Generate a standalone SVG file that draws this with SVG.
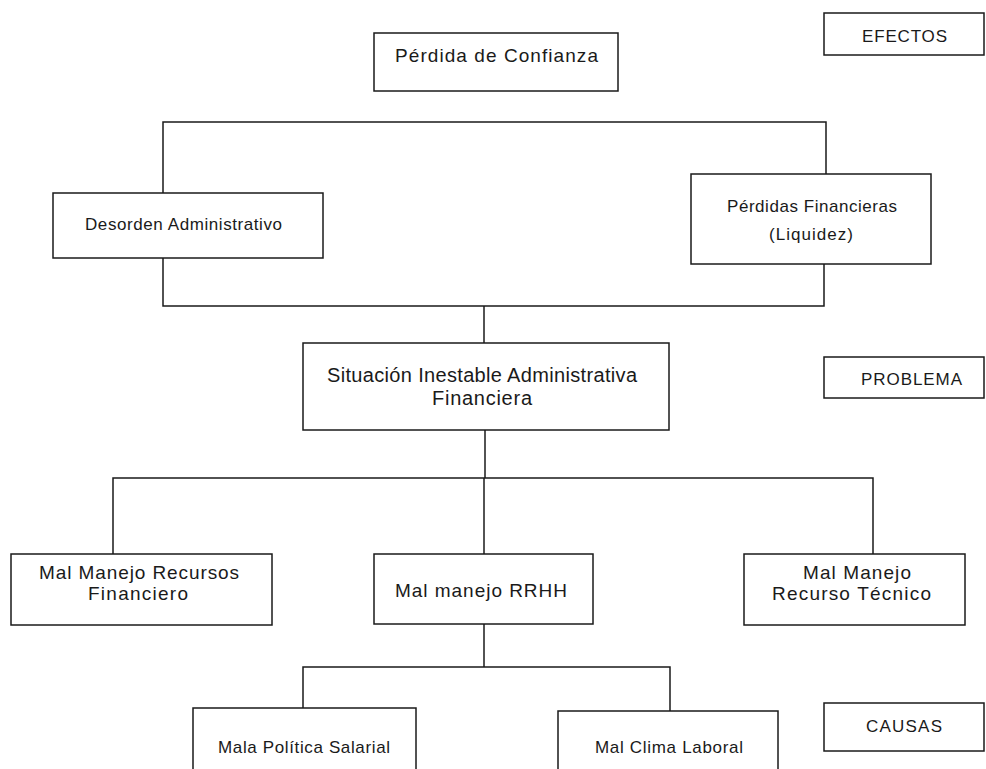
<svg xmlns="http://www.w3.org/2000/svg" width="986" height="769" viewBox="0 0 986 769">
<style>
.box{fill:#fff;stroke:#1a1a1a;stroke-width:1.5}
.ln{fill:none;stroke:#1a1a1a;stroke-width:1.5}
text{font-family:"Liberation Sans",Arial,sans-serif;fill:#1a1a1a;text-anchor:start}
.s{font-size:17px}
.m{font-size:19px}
.l{font-size:20px}
</style>
<rect width="986" height="769" fill="#fff"/>
<g id="connectors">
<polyline class="ln" points="163,193 163,122 826,122 826,174"/>
<polyline class="ln" points="163,258 163,306 824,306 824,264"/>
<line class="ln" x1="484" y1="306" x2="484" y2="343"/>
<line class="ln" x1="485" y1="430" x2="485" y2="478"/>
<polyline class="ln" points="113,554 113,478 873,478 873,554"/>
<line class="ln" x1="484" y1="478" x2="484" y2="554"/>
<line class="ln" x1="484" y1="624" x2="484" y2="667"/>
<polyline class="ln" points="303,708 303,667 670,667 670,711"/>
</g>
<g id="perdida-confianza">
<rect class="box" x="374" y="33" width="244" height="58"/>
<text class="m" x="395" y="62" textLength="203">Pérdida de Confianza</text>
</g>
<g id="efectos">
<rect class="box" x="824" y="13" width="160" height="42"/>
<text class="s" x="862" y="42" textLength="85">EFECTOS</text>
</g>
<g id="desorden">
<rect class="box" x="53" y="193" width="270" height="65"/>
<text class="s" x="85" y="230" textLength="197">Desorden Administrativo</text>
</g>
<g id="perdidas-financieras">
<rect class="box" x="691" y="174" width="240" height="90"/>
<text class="s" x="727" y="212" textLength="170">Pérdidas Financieras</text>
<text class="s" x="769" y="240" textLength="84">(Liquidez)</text>
</g>
<g id="situacion">
<rect class="box" x="303" y="343" width="366" height="87"/>
<text class="l" x="327" y="382" textLength="310">Situación Inestable Administrativa</text>
<text class="l" x="432" y="405" textLength="100">Financiera</text>
</g>
<g id="problema">
<rect class="box" x="824" y="357" width="160" height="41"/>
<text class="s" x="861" y="385" textLength="101">PROBLEMA</text>
</g>
<g id="recursos-financiero">
<rect class="box" x="11" y="554" width="261" height="71"/>
<text class="m" x="39" y="579" textLength="200">Mal Manejo Recursos</text>
<text class="m" x="88" y="600" textLength="100">Financiero</text>
</g>
<g id="rrhh">
<rect class="box" x="374" y="554" width="219" height="70"/>
<text class="m" x="395" y="597" textLength="172">Mal manejo RRHH</text>
</g>
<g id="recurso-tecnico">
<rect class="box" x="744" y="554" width="221" height="71"/>
<text class="m" x="803" y="579" textLength="108">Mal Manejo</text>
<text class="m" x="772" y="600" textLength="159">Recurso Técnico</text>
</g>
<g id="politica-salarial">
<rect class="box" x="193" y="708" width="223" height="80"/>
<text class="s" x="218" y="753" textLength="172">Mala Política Salarial</text>
</g>
<g id="clima-laboral">
<rect class="box" x="558" y="711" width="220" height="80"/>
<text class="s" x="595" y="753" textLength="148">Mal Clima Laboral</text>
</g>
<g id="causas">
<rect class="box" x="824" y="703" width="160" height="48"/>
<text class="s" x="866" y="732" textLength="76">CAUSAS</text>
</g>
</svg>
